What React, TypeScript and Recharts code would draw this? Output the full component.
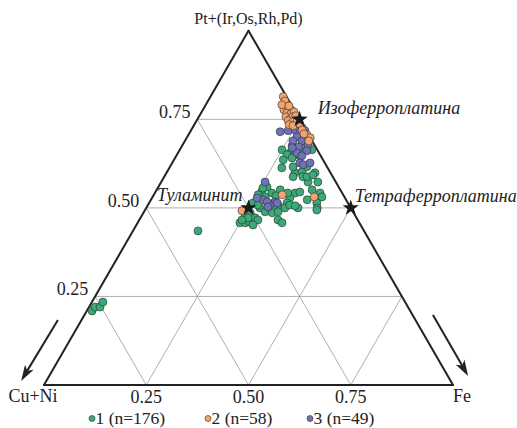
import React from 'react';
import { ScatterChart, Scatter, XAxis, YAxis, ReferenceLine, ReferenceDot } from 'recharts';

// Ternary compositions: [Fe, Pt+(Ir,Os,Rh,Pd)] fractions; Cu+Ni = 1 - Fe - Pt
const group1: [number, number][] = [
  [0.250, 0.664], [0.269, 0.675], [0.274, 0.655], [0.289, 0.650], [0.300, 0.661], [0.303, 0.670],
  [0.302, 0.647], [0.323, 0.664], [0.269, 0.650], [0.286, 0.641], [0.267, 0.636], [0.275, 0.613],
  [0.314, 0.599], [0.330, 0.602], [0.315, 0.588], [0.339, 0.588], [0.359, 0.573], [0.383, 0.573],
  [0.301, 0.616], [0.335, 0.616], [0.363, 0.599], [0.349, 0.588], [0.361, 0.593],
  [0.266, 0.559], [0.260, 0.545], [0.286, 0.542], [0.343, 0.542], [0.353, 0.545], [0.380, 0.551],
  [0.404, 0.542], [0.414, 0.531], [0.382, 0.523], [0.410, 0.514], [0.418, 0.500], [0.420, 0.494],
  [0.337, 0.528], [0.337, 0.514], [0.318, 0.508], [0.310, 0.500], [0.371, 0.500], [0.257, 0.556],
  [0.302, 0.551], [0.325, 0.542], [0.255, 0.537], [0.254, 0.514], [0.278, 0.500], [0.296, 0.489],
  [0.315, 0.486], [0.328, 0.489], [0.339, 0.500], [0.347, 0.508], [0.361, 0.506], [0.261, 0.486],
  [0.254, 0.475], [0.250, 0.458], [0.263, 0.458], [0.273, 0.460], [0.280, 0.472], [0.290, 0.466],
  [0.339, 0.466], [0.353, 0.458], [0.285, 0.452], [0.269, 0.508], [0.275, 0.531], [0.263, 0.472],
  [0.251, 0.466], [0.300, 0.534],
  [0.159, 0.435],
  [0.013, 0.209], [0.015, 0.220], [0.027, 0.220], [0.027, 0.234],
];
const group3: [number, number][] = [
  [0.220, 0.715], [0.238, 0.718], [0.254, 0.720], [0.268, 0.726], [0.270, 0.712], [0.279, 0.718],
  [0.282, 0.703], [0.268, 0.701], [0.264, 0.689], [0.286, 0.689], [0.307, 0.678], [0.287, 0.672],
  [0.312, 0.661], [0.291, 0.655], [0.272, 0.670], [0.307, 0.647], [0.312, 0.627], [0.323, 0.622],
  [0.337, 0.627], [0.254, 0.573], [0.274, 0.523], [0.306, 0.517], [0.298, 0.508], [0.257, 0.528],
  [0.287, 0.517], [0.313, 0.514], [0.296, 0.503],
];
const group2: [number, number][] = [
  [0.178, 0.814], [0.188, 0.802], [0.198, 0.777], [0.207, 0.780], [0.219, 0.774], [0.210, 0.768],
  [0.221, 0.766], [0.226, 0.771], [0.213, 0.757], [0.226, 0.751], [0.230, 0.757], [0.236, 0.760],
  [0.224, 0.746], [0.237, 0.743], [0.246, 0.746], [0.232, 0.735], [0.243, 0.732], [0.290, 0.706],
  [0.302, 0.698], [0.303, 0.689], [0.186, 0.791], [0.257, 0.737], [0.271, 0.720], [0.281, 0.709],
  [0.205, 0.788],
  [0.238, 0.492], [0.314, 0.537], [0.395, 0.531],
];

const gridLevels = [0.25, 0.5, 0.75];
const gridLabels = ['0.25', '0.50', '0.75'];

const minerals = [
  { name: 'Изоферроплатина', fe: 0.25, pt: 0.75, dx: 18, dy: -5, anchor: 'start' },
  { name: 'Туламинит', fe: 0.25, pt: 0.5, dx: -6, dy: -7, anchor: 'end' },
  { name: 'Тетраферроплатина', fe: 0.5, pt: 0.5, dx: 4, dy: -6, anchor: 'start' },
];

const legendItems = [
  { label: '1 (n=176)', color: '#3aaa78' },
  { label: '2 (n=58)', color: '#f2a36e' },
  { label: '3 (n=49)', color: '#6f72b8' },
];

const SQ = Math.sqrt(3) / 2;
const toXY = (fe: number, pt: number) => ({ x: fe + pt / 2, y: pt * SQ });

const W = 517;
const H = 428;
const X_DOMAIN: [number, number] = [-44 / 409, (517 - 44) / 409];
const Y_DOMAIN: [number, number] = [(385 - 428) / 409, 385 / 409];

const FONT = '"Liberation Serif", "Times New Roman", serif';

const dotShape = (color: string) => (p: any) => (
  <circle cx={p.cx} cy={p.cy} r={4} fill={color} stroke="#2e2e2e" strokeWidth={0.6} />
);

const starShape = (p: any) => {
  const pts: string[] = [];
  for (let i = 0; i < 10; i++) {
    const r = i % 2 === 0 ? 8.5 : 3.4;
    const a = -Math.PI / 2 + (i * Math.PI) / 5;
    pts.push(`${p.cx + r * Math.cos(a)},${p.cy + r * Math.sin(a)}`);
  }
  return <polygon points={pts.join(' ')} fill="#1a1a1a" />;
};

const textShape = (text: string, dx: number, dy: number, anchor: string, size = 18, italic = false) => (p: any) => (
  <text
    x={p.cx + dx}
    y={p.cy + dy}
    textAnchor={anchor as any}
    fontFamily={FONT}
    fontSize={size}
    fontStyle={italic ? 'italic' : 'normal'}
    fill="#222"
  >
    {text}
  </text>
);

const arrowShape = (p: any) => {
  const { x1, y1, x2, y2 } = p;
  const ang = Math.atan2(y2 - y1, x2 - x1);
  const len = 16;
  const half = 5;
  const bx = x2 - len * Math.cos(ang);
  const by = y2 - len * Math.sin(ang);
  const nx = -Math.sin(ang);
  const ny = Math.cos(ang);
  const notchX = x2 - (len - 4) * Math.cos(ang);
  const notchY = y2 - (len - 4) * Math.sin(ang);
  return (
    <g>
      <line x1={x1} y1={y1} x2={notchX} y2={notchY} stroke="#222" strokeWidth={2} />
      <polygon
        points={`${x2},${y2} ${bx + nx * half},${by + ny * half} ${notchX},${notchY} ${bx - nx * half},${by - ny * half}`}
        fill="#222"
      />
    </g>
  );
};

// arrow endpoints in the chart's cartesian units
const arrows = [
  { from: { x: 0.034, y: 0.159 }, to: { x: -0.056, y: 0.010 } },
  { from: { x: 0.951, y: 0.171 }, to: { x: 1.037, y: 0.022 } },
];

const legendX = [92, 208, 310];

export default function App() {
  const d1 = group1.map(([fe, pt]) => toXY(fe, pt));
  const d2 = group2.map(([fe, pt]) => toXY(fe, pt));
  const d3 = group3.map(([fe, pt]) => toXY(fe, pt));
  const dStars = minerals.map((m) => toXY(m.fe, m.pt));

  const gridSegs: { a: { x: number; y: number }; b: { x: number; y: number } }[] = [];
  gridLevels.forEach((c) => {
    gridSegs.push({ a: toXY(0, c), b: toXY(1 - c, c) }); // const Pt
    gridSegs.push({ a: toXY(c, 0), b: toXY(c, 1 - c) }); // const Fe
    gridSegs.push({ a: toXY(1 - c, 0), b: toXY(0, 1 - c) }); // const Cu+Ni
  });
  const edges = [
    { a: toXY(0, 0), b: toXY(1, 0) },
    { a: toXY(1, 0), b: toXY(0, 1) },
    { a: toXY(0, 1), b: toXY(0, 0) },
  ];

  return (
    <div style={{ position: 'relative', width: W, height: H }}>
      <style>{`body{margin:0}`}</style>
      <ScatterChart width={W} height={H} margin={{ top: 0, right: 0, bottom: 0, left: 0 }}>
        <XAxis type="number" dataKey="x" domain={X_DOMAIN} allowDataOverflow hide />
        <YAxis type="number" dataKey="y" domain={Y_DOMAIN} allowDataOverflow hide />
        {gridSegs.map((s, i) => (
          <ReferenceLine key={`g${i}`} segment={[s.a, s.b]} stroke="#9a9a9a" strokeWidth={0.8} ifOverflow="visible" />
        ))}
        {edges.map((s, i) => (
          <ReferenceLine key={`e${i}`} segment={[s.a, s.b]} stroke="#222" strokeWidth={2} strokeLinecap="round" ifOverflow="visible" />
        ))}
        {arrows.map((a, i) => (
          <ReferenceLine key={`a${i}`} segment={[a.from, a.to]} shape={arrowShape} ifOverflow="visible" />
        ))}
        {gridLevels.map((c, i) => (
          <ReferenceDot key={`lt${i}`} {...toXY(0, c)} r={0} ifOverflow="visible" shape={textShape(gridLabels[i], -7, -1, 'end')} />
        ))}
        {gridLevels.map((c, i) => (
          <ReferenceDot key={`bt${i}`} {...toXY(c, 0)} r={0} ifOverflow="visible" shape={textShape(gridLabels[i], 0, 18, 'middle')} />
        ))}
        <ReferenceDot {...toXY(0, 0)} r={0} ifOverflow="visible" shape={textShape('Cu+Ni', -11, 17, 'middle')} />
        <ReferenceDot {...toXY(1, 0)} r={0} ifOverflow="visible" shape={textShape('Fe', 0, 17, 'start')} />
        <ReferenceDot {...toXY(0, 1)} r={0} ifOverflow="visible" shape={textShape('Pt+(Ir,Os,Rh,Pd)', 0, -7, 'middle', 16)} />
        <Scatter name="1" data={d1} shape={dotShape(legendItems[0].color)} isAnimationActive={false} />
        <Scatter name="3" data={d3} shape={dotShape(legendItems[2].color)} isAnimationActive={false} />
        <Scatter name="2" data={d2} shape={dotShape(legendItems[1].color)} isAnimationActive={false} />
        <Scatter name="minerals" data={dStars} shape={starShape} isAnimationActive={false} />
        {minerals.map((m, i) => (
          <ReferenceDot key={`m${i}`} {...toXY(m.fe, m.pt)} r={0} ifOverflow="visible" shape={textShape(m.name, m.dx, m.dy, m.anchor, 18, true)} />
        ))}
      </ScatterChart>
      <svg width={W} height={H} style={{ position: 'absolute', left: 0, top: 0, pointerEvents: 'none' }}>
        {legendItems.map((it, i) => (
          <g key={i}>
            <circle cx={legendX[i]} cy={418.5} r={3} fill={it.color} stroke="#2e2e2e" strokeWidth={0.6} />
            <text x={legendX[i] + 3.5} y={423.5} fontFamily={FONT} fontSize={17.5} fill="#222">
              {it.label}
            </text>
          </g>
        ))}
      </svg>
    </div>
  );
}
